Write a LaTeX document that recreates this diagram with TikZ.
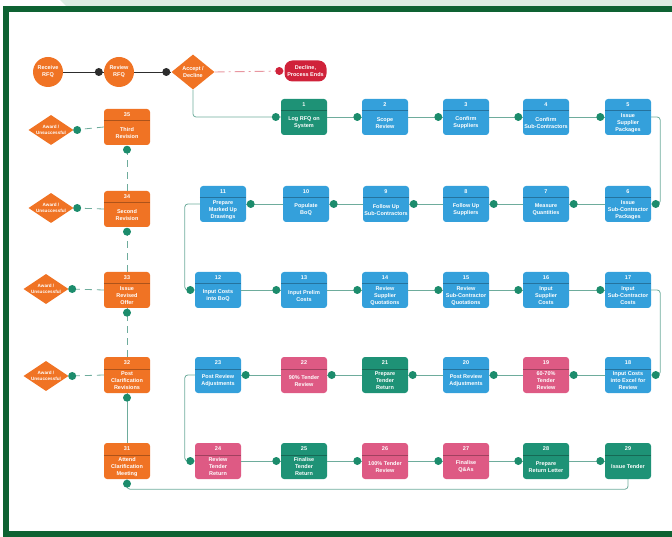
\documentclass[tikz,border=0pt]{standalone}
\usepackage{fontspec}
\setmainfont{Liberation Sans}
\usetikzlibrary{shapes.geometric,calc}
\definecolor{bluec}{RGB}{52,160,219}
\definecolor{tealc}{RGB}{30,146,118}
\definecolor{pinkc}{RGB}{222,90,132}
\definecolor{orangec}{RGB}{240,115,36}
\definecolor{redc}{RGB}{208,34,58}
\definecolor{dotc}{RGB}{28,140,108}
\definecolor{linec}{RGB}{110,172,156}
\definecolor{framec}{RGB}{14,98,50}
\definecolor{bandc}{RGB}{221,237,227}
\definecolor{darkc}{RGB}{45,45,45}
\definecolor{declc}{RGB}{232,150,160}
\tikzset{
  flowbox/.style={rectangle, rounded corners=3pt, minimum width=46pt, minimum height=36pt, inner sep=0pt, draw=none},
  ftxt/.style={text=white, font=\fontsize{5.5}{7}\selectfont\bfseries, align=center, inner sep=0pt},
  dtxt/.style={text=white, font=\fontsize{4.6}{6.4}\selectfont\bfseries, align=center, inner sep=0pt},
  conn/.style={draw=linec, line width=0.8pt},
  dconn/.style={draw=linec, line width=0.8pt, dash pattern=on 7pt off 5pt},
  tdot/.style={fill=dotc},
  kdot/.style={fill=darkc},
  startc/.style={circle, fill=orangec, minimum size=30pt, inner sep=0pt},
  odiam/.style={diamond, fill=orangec, minimum width=45pt, minimum height=30pt, inner sep=0pt, aspect=1.5},
}
\newcommand\flowbox[6]{%
  \node[flowbox, fill=#4] (#1) at (#2,#3) {};
  \draw[#4!72!black, line width=0.6pt] ([yshift=-12pt]#1.north west) -- ([yshift=-12pt]#1.north east);
  \node[ftxt] (#1n) at ([yshift=-6pt]#1.north) {#5};
  \node[ftxt] (#1t) at ([yshift=-24pt]#1.north) {#6};
}
\begin{document}
\begin{tikzpicture}[x=1pt,y=-1pt]
\useasboundingbox (0,0) rectangle (672,537);
% background band and frame
\fill[bandc] (60,0) -- (672,0) -- (672,6) -- (66,6) -- cycle;
\fill[framec] (3,6) rectangle (672,12);
\fill[framec] (3,6) rectangle (9,537);
\fill[framec] (3,531) rectangle (672,537);

% start nodes
\node[startc] (recv) at (48,72) {};
\node[ftxt] (recvt) at (recv) {Receive\\RFQ};
\node[startc] (revw) at (119,72) {};
\node[ftxt] (revwt) at (revw) {Review\\RFQ};
\node[diamond, fill=orangec, minimum width=43pt, minimum height=35pt, inner sep=0pt, aspect=1.2] (acc) at (193,72) {};
\node[ftxt] (acct) at (acc) {Accept /\\Decline};
\node[rectangle, rounded corners=8pt, fill=redc, minimum width=42pt, minimum height=21pt, inner sep=0pt] (decl) at (305.5,71) {};
\node[ftxt] (declt) at (decl) {Decline,\\Process Ends};

% row 1
\flowbox{n1}{304}{117}{tealc}{1}{Log RFQ on\\System}
\flowbox{n2}{385}{117}{bluec}{2}{Scope\\Review}
\flowbox{n3}{466}{117}{bluec}{3}{Confirm\\Suppliers}
\flowbox{n4}{546}{117}{bluec}{4}{Confirm\\Sub-Contractors}
\flowbox{n5}{628}{117}{bluec}{5}{Issue\\Supplier\\Packages}
% row 2
\flowbox{n11}{223}{204}{bluec}{11}{Prepare\\Marked Up\\Drawings}
\flowbox{n10}{306}{204}{bluec}{10}{Populate\\BoQ}
\flowbox{n9}{386}{204}{bluec}{9}{Follow Up\\Sub-Contractors}
\flowbox{n8}{466}{204}{bluec}{8}{Follow Up\\Suppliers}
\flowbox{n7}{546}{204}{bluec}{7}{Measure\\Quantities}
\flowbox{n6}{628}{204}{bluec}{6}{Issue\\Sub-Contractor\\Packages}
% row 3
\flowbox{n12}{218}{290}{bluec}{12}{Input Costs\\into BoQ}
\flowbox{n13}{304}{290}{bluec}{13}{Input Prelim\\Costs}
\flowbox{n14}{385}{290}{bluec}{14}{Review\\Supplier\\Quotations}
\flowbox{n15}{466}{290}{bluec}{15}{Review\\Sub-Contractor\\Quotations}
\flowbox{n16}{546}{290}{bluec}{16}{Input\\Supplier\\Costs}
\flowbox{n17}{628}{290}{bluec}{17}{Input\\Sub-Contractor\\Costs}
% row 4
\flowbox{n23}{218}{375}{bluec}{23}{Post Review\\Adjustments}
\flowbox{n22}{304}{375}{pinkc}{22}{90\% Tender\\Review}
\flowbox{n21}{385}{375}{tealc}{21}{Prepare\\Tender\\Return}
\flowbox{n20}{466}{375}{bluec}{20}{Post Review\\Adjustments}
\flowbox{n19}{546}{375}{pinkc}{19}{60-70\%\\Tender\\Review}
\flowbox{n18}{628}{375}{bluec}{18}{Input Costs\\into Excel for\\Review}
% row 5
\flowbox{n24}{218}{461}{pinkc}{24}{Review\\Tender\\Return}
\flowbox{n25}{304}{461}{tealc}{25}{Finalise\\Tender\\Return}
\flowbox{n26}{385}{461}{pinkc}{26}{100\% Tender\\Review}
\flowbox{n27}{466}{461}{pinkc}{27}{Finalise\\Q\&As}
\flowbox{n28}{546}{461}{tealc}{28}{Prepare\\Return Letter}
\flowbox{n29}{628}{461}{tealc}{29}{Issue Tender}
% orange column
\flowbox{n35}{127}{127}{orangec}{35}{Third\\Revision}
\flowbox{n34}{127}{209}{orangec}{34}{Second\\Revision}
\flowbox{n33}{127}{290}{orangec}{33}{Issue\\Revised\\Offer}
\flowbox{n32}{127}{375}{orangec}{32}{Post\\Clarification\\Revisions}
\flowbox{n31}{127}{461}{orangec}{31}{Attend\\Clarification\\Meeting}
% diamonds
\node[odiam] (d35) at (51,130) {};
\node[dtxt] (d35t) at (d35) {Award /\\Unsuccessful};
\node[odiam] (d34) at (51,208) {};
\node[dtxt] (d34t) at (d34) {Award /\\Unsuccessful};
\node[odiam] (d33) at (46,289) {};
\node[dtxt] (d33t) at (d33) {Award /\\Unsuccessful};
\node[odiam] (d32) at (46,376) {};
\node[dtxt] (d32t) at (d32) {Award /\\Unsuccessful};

% top connectors
\draw[darkc, line width=0.9pt] (recv.east) -- (revw.west);
\fill[kdot] ([xshift=-5pt]revw.west) circle (4pt);
\draw[darkc, line width=0.9pt] (revw.east) -- (acc.west);
\fill[kdot] ([xshift=-5pt]acc.west) circle (4pt);
\draw[declc, line width=0.9pt, dash pattern=on 10pt off 4pt on 2pt off 4pt] (acc.east) -- (decl.west);
\fill[redc] ([xshift=-5pt]decl.west) circle (4pt);
\draw[conn, rounded corners=3pt] (acc.south) |- (n1.west);
\fill[tdot] ([xshift=-5pt]n1.west) circle (4pt);

% row 1
\foreach \a/\b in {n1/n2,n2/n3,n3/n4,n4/n5}{
  \draw[conn] (\a.east) -- (\b.west);
  \fill[tdot] ([xshift=-4.5pt]\b.west) circle (4pt);
}
\draw[conn, rounded corners=3pt] (n5.east) -- ++(9,0) |- (n6.east);
\fill[tdot] ([xshift=4.5pt]n6.east) circle (4pt);
% row 2
\foreach \a/\b in {n6/n7,n7/n8,n8/n9,n9/n10,n10/n11}{
  \draw[conn] (\a.west) -- (\b.east);
  \fill[tdot] ([xshift=4.5pt]\b.east) circle (4pt);
}
\draw[conn, rounded corners=3pt] (n11.west) -- ++(-15,0) |- (n12.west);
\fill[tdot] ([xshift=-4.5pt]n12.west) circle (4pt);
% row 3
\foreach \a/\b in {n12/n13,n13/n14,n14/n15,n15/n16,n16/n17}{
  \draw[conn] (\a.east) -- (\b.west);
  \fill[tdot] ([xshift=-4.5pt]\b.west) circle (4pt);
}
\draw[conn, rounded corners=3pt] (n17.east) -- ++(9,0) |- (n18.east);
\fill[tdot] ([xshift=4.5pt]n18.east) circle (4pt);
% row 4
\foreach \a/\b in {n18/n19,n19/n20,n20/n21,n21/n22,n22/n23}{
  \draw[conn] (\a.west) -- (\b.east);
  \fill[tdot] ([xshift=4.5pt]\b.east) circle (4pt);
}
\draw[conn, rounded corners=3pt] (n23.west) -- ++(-10,0) |- (n24.west);
\fill[tdot] ([xshift=-4.5pt]n24.west) circle (4pt);
% row 5
\foreach \a/\b in {n24/n25,n25/n26,n26/n27,n27/n28,n28/n29}{
  \draw[conn] (\a.east) -- (\b.west);
  \fill[tdot] ([xshift=-4.5pt]\b.west) circle (4pt);
}
\draw[conn, rounded corners=3pt] (n29.south) -- ++(0,10) -| (n31.south);
\fill[tdot] ([yshift=-4.5pt]n31.south) circle (4pt);
% orange column
\draw[conn] (n31.north) -- (n32.south);
\fill[tdot] ([yshift=-4.5pt]n32.south) circle (4pt);
\foreach \a/\b in {n32/n33,n33/n34,n34/n35}{
  \draw[dconn] (\a.north) -- (\b.south);
  \fill[tdot] ([yshift=-4.5pt]\b.south) circle (4pt);
}
\foreach \a/\b in {n35/d35,n34/d34,n33/d33,n32/d32}{
  \draw[dconn] (\a.west) -- (\b.east);
  \fill[tdot] ([xshift=3.5pt]\b.east) circle (4pt);
}
\end{tikzpicture}
\end{document}
